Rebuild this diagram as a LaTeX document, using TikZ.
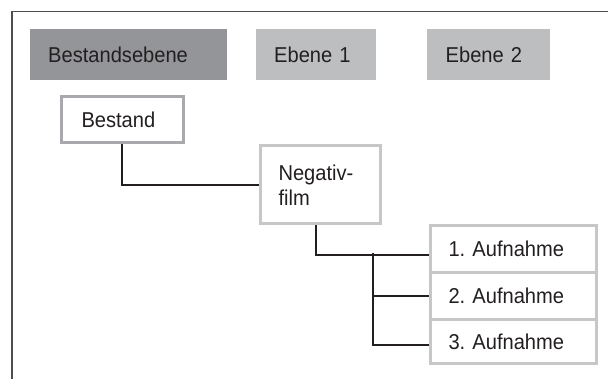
\documentclass[tikz,border=0pt]{standalone}
\usepackage{fontspec}
\setmainfont{Liberation Sans}[FakeStretch=0.935]
\definecolor{txt}{HTML}{231F20}
\definecolor{hdrdark}{HTML}{939598}
\definecolor{hdrlight}{HTML}{BCBEC0}
\definecolor{bdark}{HTML}{A7A9AC}
\definecolor{blight}{HTML}{C6C7C9}
\definecolor{frame}{HTML}{4D4D4F}
\tikzset{
  lbl/.style={font=\fontsize{21.5}{25}\selectfont\frenchspacing, text=txt, align=left, anchor=north west, inner ysep=0pt},
  hdr/.style={lbl, inner xsep=18pt, minimum height=51pt},
  box/.style={lbl, draw, line width=3pt, fill=white},
  conn/.style={draw=txt, line width=2pt}
}
\begin{document}
\begin{tikzpicture}[x=1pt,y=-1pt]
\useasboundingbox (0,0) rectangle (608,379);
\fill[white] (0,0) rectangle (608,379);
\draw[frame, line width=1.5pt] (12,380) -- (12,11.5) -- (609,11.5);
% header
\node[hdr, fill=hdrdark, text width=161pt] (h0) at (30,29) {Bestandsebene};
\node[hdr, fill=hdrlight, text width=84pt] (h1) at (256,29) {Ebene 1};
\node[hdr, fill=hdrlight, text width=86pt, inner xsep=18.5pt] (h2) at (427,29) {Ebene 2};
% boxes
\node[box, draw=bdark, minimum height=46pt, text width=81pt, inner xsep=20.5pt] (bestand) at (59.5,95.5) {Bestand};
\node[box, draw=blight, minimum height=78pt, text width=83pt, inner xsep=18.5pt] (neg) at (258.5,144.5) {Negativ-\\film};
\node[box, draw=blight, minimum height=46.5pt, text width=129pt, inner xsep=18.5pt] (a1) at (428.5,224.5) {1. Aufnahme};
\node[box, draw=blight, minimum height=47pt, text width=129pt, inner xsep=18.5pt] (a2) at (428.5,271) {2. Aufnahme};
\node[box, draw=blight, minimum height=44.5pt, text width=129pt, inner xsep=18.5pt] (a3) at (428.5,318) {3. Aufnahme};
% connectors
\draw[conn] (bestand.south) |- (neg.west);
\draw[conn] ([xshift=-4.5pt]neg.south) |- ([yshift=-5.5pt]a1.west);
\coordinate (br) at (373,253);
\draw[conn] (br) |- ([yshift=-3pt]a3.west);
\draw[conn] (br |- a2.west) -- (a2.west);
\end{tikzpicture}
\end{document}
